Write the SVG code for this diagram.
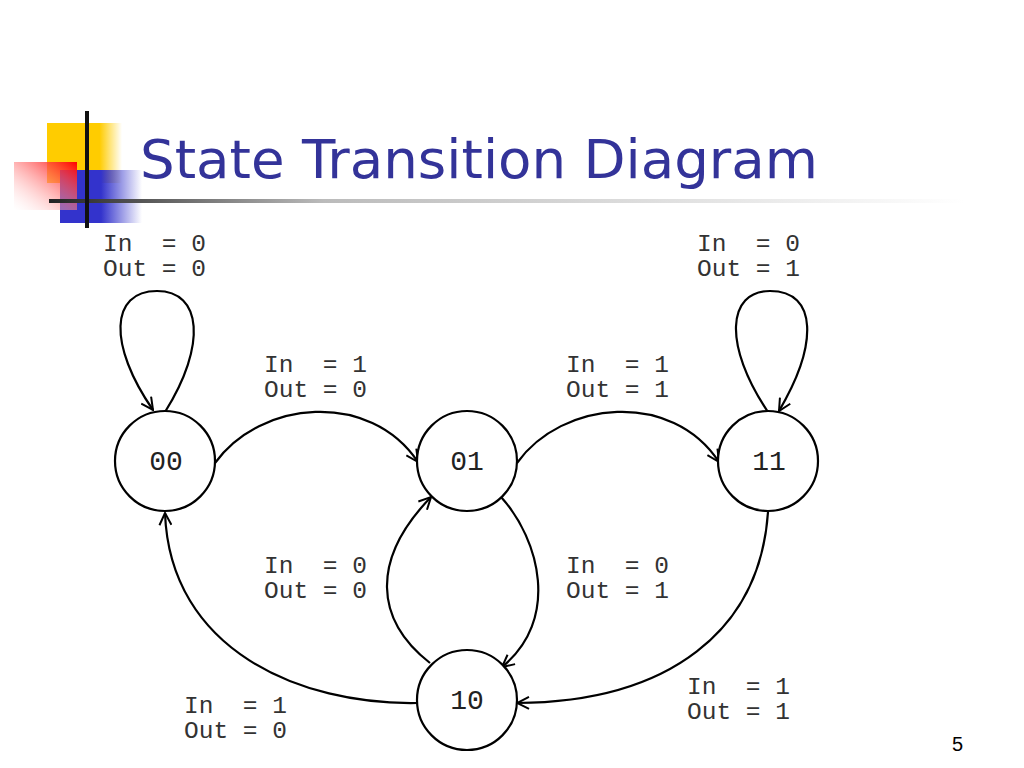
<svg xmlns="http://www.w3.org/2000/svg" width="1024" height="768" viewBox="0 0 1024 768">
<style>
.st{fill:#fff;stroke:#000;stroke-width:2.2}
.sl{font-family:"Liberation Mono","Courier New",monospace;font-size:28px;fill:#222;text-anchor:middle}
.lb{font-family:"Liberation Mono","Courier New",monospace;font-size:24.5px;fill:#333;white-space:pre}
.e{fill:none;stroke:#000;stroke-width:2.2;marker-end:url(#ah)}
</style>
<defs>
<marker id="ah" viewBox="0 0 14 14" refX="13" refY="7" markerWidth="14" markerHeight="14" markerUnits="userSpaceOnUse" orient="auto">
<path d="M1,1 L13,7 L1,13" fill="none" stroke="#000" stroke-width="2"/>
</marker>
<linearGradient id="gy" x1="0" y1="0" x2="1" y2="0"><stop offset="0.7" stop-color="#ffcc00"/><stop offset="1" stop-color="#ffcc00" stop-opacity="0"/></linearGradient>
<linearGradient id="gr" x1="1" y1="0" x2="0" y2="1"><stop offset="0" stop-color="#ff0000"/><stop offset="1" stop-color="#ffffff" stop-opacity="0.2"/></linearGradient>
<linearGradient id="gb" x1="0" y1="0" x2="1" y2="0"><stop offset="0.5" stop-color="#3333cc"/><stop offset="1" stop-color="#3333cc" stop-opacity="0"/></linearGradient>
<linearGradient id="gl" x1="0" y1="0" x2="1" y2="0"><stop offset="0" stop-color="#222"/><stop offset="0.3" stop-color="#bbb"/><stop offset="1" stop-color="#fff"/></linearGradient>
</defs>
<g id="title-deco">
<rect x="47" y="123" width="75" height="60" fill="url(#gy)"/>
<rect x="60" y="170" width="82" height="53" fill="url(#gb)"/>
<rect x="14" y="162" width="63" height="48" fill="url(#gr)"/>
<rect x="49" y="199" width="915" height="4" fill="url(#gl)"/>
<rect x="85" y="111" width="4" height="117" fill="#111"/>
</g>
<text id="title" x="140" y="178" font-family="DejaVu Sans, Verdana, sans-serif" font-size="54" fill="#333399" textLength="678" lengthAdjust="spacingAndGlyphs">State Transition Diagram</text>
<g id="connectors">
<path class="e" d="M165,412 C207,345 202,291 157,291 C110,291 108,345 153,410"/>
<path class="e" d="M768,412 C723,345 727,291 770,291 C818,291 818,345 779,411"/>
<path class="e" d="M215,463 C260,400 370,390 418,462"/>
<path class="e" d="M517,463 C562,400 672,390 719,462"/>
<path class="e" d="M501,497 C540,540 560,620 502,667"/>
<path class="e" d="M430,663 C375,620 370,560 431,497"/>
<path class="e" d="M768,512 C760,630 670,702 517,703"/>
<path class="e" d="M417,703 C300,705 170,650 165,513"/>
</g>
<g id="s00"><circle class="st" cx="165" cy="461" r="50"/><text class="sl" x="166" y="470">00</text></g>
<g id="s01"><circle class="st" cx="467" cy="461" r="50"/><text class="sl" x="467" y="470">01</text></g>
<g id="s11"><circle class="st" cx="768" cy="461" r="50"/><text class="sl" x="769" y="470">11</text></g>
<g id="s10"><circle class="st" cx="467" cy="700" r="50"/><text class="sl" x="467" y="709">10</text></g>
<g id="labels">
<text class="lb" x="103" y="251">In  = 0</text><text class="lb" x="103" y="276">Out = 0</text>
<text class="lb" x="697" y="251">In  = 0</text><text class="lb" x="697" y="276">Out = 1</text>
<text class="lb" x="264" y="372">In  = 1</text><text class="lb" x="264" y="397">Out = 0</text>
<text class="lb" x="566" y="372">In  = 1</text><text class="lb" x="566" y="397">Out = 1</text>
<text class="lb" x="264" y="573">In  = 0</text><text class="lb" x="264" y="598">Out = 0</text>
<text class="lb" x="566" y="573">In  = 0</text><text class="lb" x="566" y="598">Out = 1</text>
<text class="lb" x="184" y="713">In  = 1</text><text class="lb" x="184" y="738">Out = 0</text>
<text class="lb" x="687" y="694">In  = 1</text><text class="lb" x="687" y="719">Out = 1</text>
</g>
<text id="page" x="952" y="751" font-family="Liberation Sans, Arial, sans-serif" font-size="20" fill="#000">5</text>
</svg>
